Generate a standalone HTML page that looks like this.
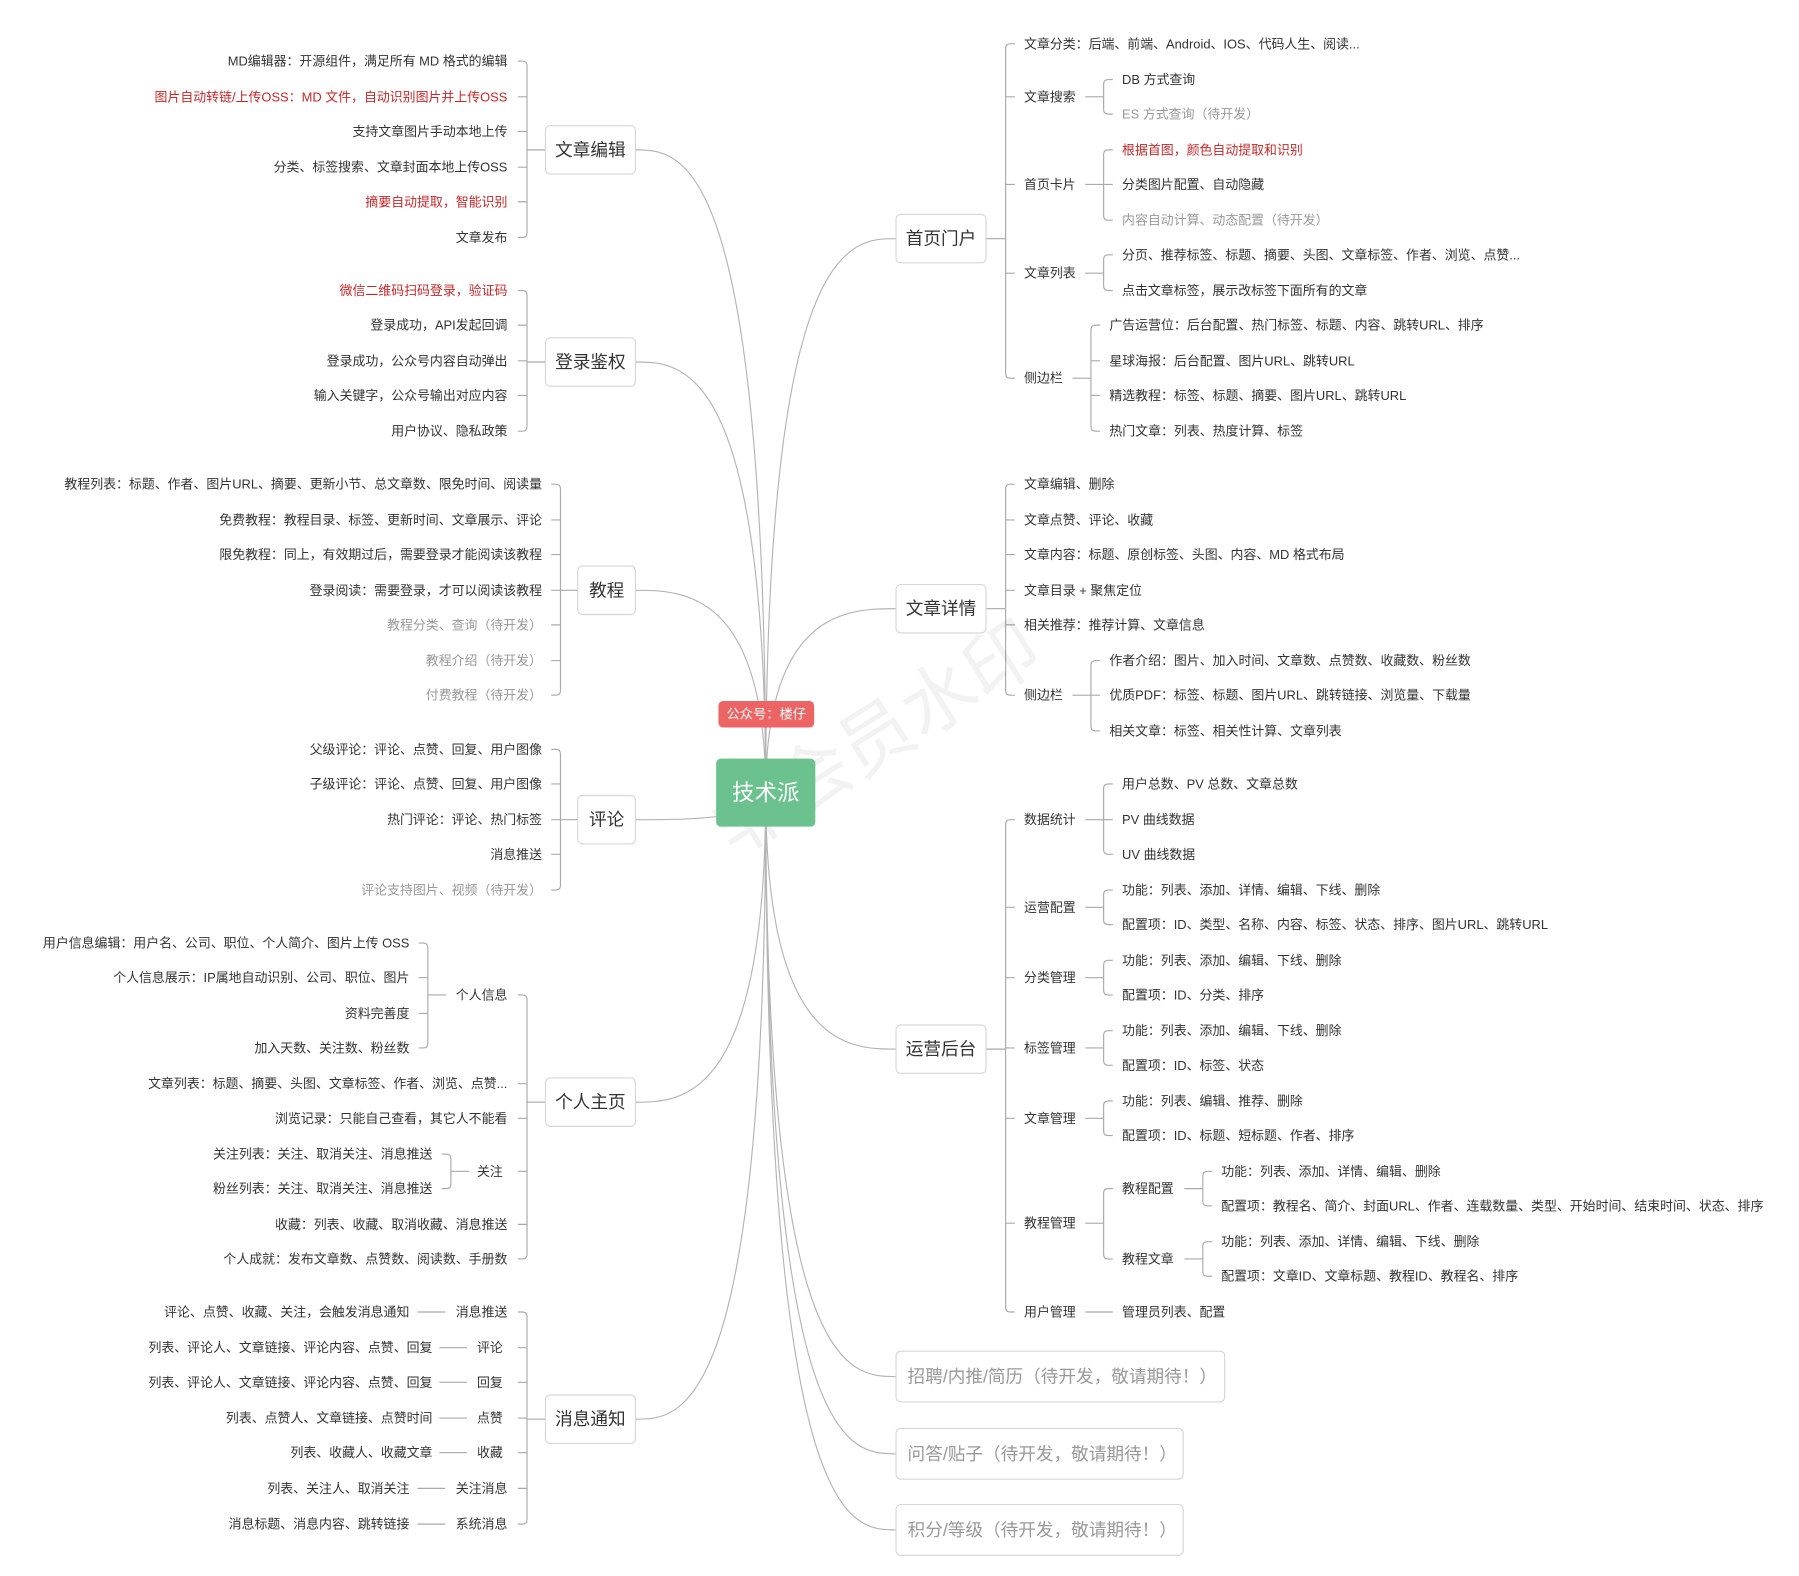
<!DOCTYPE html>
<html><head><meta charset="utf-8"><style>
html,body{margin:0;padding:0;background:#fff;}
svg{display:block;}
text{font-family:"Liberation Sans","Noto Sans CJK SC",sans-serif;font-size:11.2px;fill:#333;dominant-baseline:central;}
.e{text-anchor:end;}
.r{fill:#c0282a;}
.g{fill:#999;}
.m{font-size:15.3px;}
.mg{font-size:15.3px;fill:#999;}
.box{fill:#fff;stroke:#d6d6d6;stroke-width:1;}
.ln{fill:none;stroke:#aaa;stroke-width:1;}
.cv{fill:none;stroke:#b4b4b4;stroke-width:1;}
</style></head><body>
<svg id="s" width="1799" height="1576" viewBox="0 0 1560 1367" preserveAspectRatio="none" xmlns="http://www.w3.org/2000/svg">
<g id="curves"></g>
<g id="lines"></g>
<text x="760" y="640" transform="rotate(-32 760 640)" style="font-size:64px;fill:rgba(0,0,0,0.05);text-anchor:middle">非会员水印</text>

<rect class="box" x="473" y="109" width="78" height="42" rx="4"/><text class="m" x="512" y="130" text-anchor="middle">文章编辑</text>
<rect class="box" x="473" y="293" width="78" height="42" rx="4"/><text class="m" x="512" y="314" text-anchor="middle">登录鉴权</text>
<rect class="box" x="501" y="491" width="50" height="42" rx="4"/><text class="m" x="526" y="512" text-anchor="middle">教程</text>
<rect class="box" x="501" y="690" width="50" height="42" rx="4"/><text class="m" x="526" y="711" text-anchor="middle">评论</text>
<rect class="box" x="473" y="935" width="78" height="42" rx="4"/><text class="m" x="512" y="956" text-anchor="middle">个人主页</text>
<rect class="box" x="473" y="1210" width="78" height="42" rx="4"/><text class="m" x="512" y="1231" text-anchor="middle">消息通知</text>

<rect class="box" x="777" y="186" width="78" height="42" rx="4"/><text class="m" x="816" y="207" text-anchor="middle">首页门户</text>
<rect class="box" x="777" y="507" width="78" height="42" rx="4"/><text class="m" x="816" y="528" text-anchor="middle">文章详情</text>
<rect class="box" x="777" y="889" width="78" height="42" rx="4"/><text class="m" x="816" y="910" text-anchor="middle">运营后台</text>
<rect class="box" x="777" y="1172" width="285" height="44" rx="4"/><text class="mg" x="787" y="1194">招聘/内推/简历（待开发，敬请期待！）</text>
<rect class="box" x="777" y="1239" width="249" height="44" rx="4"/><text class="mg" x="787" y="1261">问答/贴子（待开发，敬请期待！）</text>
<rect class="box" x="777" y="1305" width="249" height="44" rx="4"/><text class="mg" x="787" y="1327">积分/等级（待开发，敬请期待！）</text>

<rect x="623" y="608" width="83" height="23" rx="4" fill="#ec6464"/><text x="664.5" y="619.5" text-anchor="middle" style="fill:#fff;font-size:11.5px">公众号：楼仔</text>
<rect x="621" y="658" width="86" height="59" rx="4" fill="#6cc28f"/><text x="664" y="688" text-anchor="middle" style="fill:#fff;font-size:19.5px">技术派</text>

<text class="e" x="440" y="53">MD编辑器：开源组件，满足所有 MD 格式的编辑</text>
<text class="e r" x="440" y="84">图片自动转链/上传OSS：MD 文件，自动识别图片并上传OSS</text>
<text class="e" x="440" y="114">支持文章图片手动本地上传</text>
<text class="e" x="440" y="145">分类、标签搜索、文章封面本地上传OSS</text>
<text class="e r" x="440" y="175">摘要自动提取，智能识别</text>
<text class="e" x="440" y="206">文章发布</text>
<text class="e r" x="440" y="252">微信二维码扫码登录，验证码</text>
<text class="e" x="440" y="282">登录成功，API发起回调</text>
<text class="e" x="440" y="313">登录成功，公众号内容自动弹出</text>
<text class="e" x="440" y="343">输入关键字，公众号输出对应内容</text>
<text class="e" x="440" y="374">用户协议、隐私政策</text>
<text class="e" x="470" y="420">教程列表：标题、作者、图片URL、摘要、更新小节、总文章数、限免时间、阅读量</text>
<text class="e" x="470" y="451">免费教程：教程目录、标签、更新时间、文章展示、评论</text>
<text class="e" x="470" y="481">限免教程：同上，有效期过后，需要登录才能阅读该教程</text>
<text class="e" x="470" y="512">登录阅读：需要登录，才可以阅读该教程</text>
<text class="e g" x="470" y="542">教程分类、查询（待开发）</text>
<text class="e g" x="470" y="573">教程介绍（待开发）</text>
<text class="e g" x="470" y="603">付费教程（待开发）</text>
<text class="e" x="470" y="650">父级评论：评论、点赞、回复、用户图像</text>
<text class="e" x="470" y="680">子级评论：评论、点赞、回复、用户图像</text>
<text class="e" x="470" y="711">热门评论：评论、热门标签</text>
<text class="e" x="470" y="741">消息推送</text>
<text class="e g" x="470" y="772">评论支持图片、视频（待开发）</text>
<text class="e" x="355" y="818">用户信息编辑：用户名、公司、职位、个人简介、图片上传 OSS</text>
<text class="e" x="355" y="848">个人信息展示：IP属地自动识别、公司、职位、图片</text>
<text class="e" x="355" y="879">资料完善度</text>
<text class="e" x="355" y="909">加入天数、关注数、粉丝数</text>
<text class="e" x="440" y="863">个人信息</text>
<text class="e" x="440" y="940">文章列表：标题、摘要、头图、文章标签、作者、浏览、点赞...</text>
<text class="e" x="440" y="970">浏览记录：只能自己查看，其它人不能看</text>
<text class="e" x="375" y="1001">关注列表：关注、取消关注、消息推送</text>
<text class="e" x="375" y="1031">粉丝列表：关注、取消关注、消息推送</text>
<text class="e" x="436" y="1016">关注</text>
<text class="e" x="440" y="1062">收藏：列表、收藏、取消收藏、消息推送</text>
<text class="e" x="440" y="1092">个人成就：发布文章数、点赞数、阅读数、手册数</text>
<text class="e" x="355" y="1138">评论、点赞、收藏、关注，会触发消息通知</text><text class="e" x="440" y="1138">消息推送</text>
<text class="e" x="375" y="1169">列表、评论人、文章链接、评论内容、点赞、回复</text><text class="e" x="436" y="1169">评论</text>
<text class="e" x="375" y="1199">列表、评论人、文章链接、评论内容、点赞、回复</text><text class="e" x="436" y="1199">回复</text>
<text class="e" x="375" y="1230">列表、点赞人、文章链接、点赞时间</text><text class="e" x="436" y="1230">点赞</text>
<text class="e" x="375" y="1260">列表、收藏人、收藏文章</text><text class="e" x="436" y="1260">收藏</text>
<text class="e" x="355" y="1291">列表、关注人、取消关注</text><text class="e" x="440" y="1291">关注消息</text>
<text class="e" x="355" y="1322">消息标题、消息内容、跳转链接</text><text class="e" x="440" y="1322">系统消息</text>

<text x="888" y="38">文章分类：后端、前端、Android、IOS、代码人生、阅读...</text>
<text x="888" y="84">文章搜索</text>
<text x="973" y="69">DB 方式查询</text>
<text class="g" x="973" y="99">ES 方式查询（待开发）</text>
<text x="888" y="160">首页卡片</text>
<text class="r" x="973" y="130">根据首图，颜色自动提取和识别</text>
<text x="973" y="160">分类图片配置、自动隐藏</text>
<text class="g" x="973" y="191">内容自动计算、动态配置（待开发）</text>
<text x="888" y="237">文章列表</text>
<text x="973" y="221">分页、推荐标签、标题、摘要、头图、文章标签、作者、浏览、点赞...</text>
<text x="973" y="252">点击文章标签，展示改标签下面所有的文章</text>
<text x="888" y="328">侧边栏</text>
<text x="962" y="282">广告运营位：后台配置、热门标签、标题、内容、跳转URL、排序</text>
<text x="962" y="313">星球海报：后台配置、图片URL、跳转URL</text>
<text x="962" y="343">精选教程：标签、标题、摘要、图片URL、跳转URL</text>
<text x="962" y="374">热门文章：列表、热度计算、标签</text>
<text x="888" y="420">文章编辑、删除</text>
<text x="888" y="451">文章点赞、评论、收藏</text>
<text x="888" y="481">文章内容：标题、原创标签、头图、内容、MD 格式布局</text>
<text x="888" y="512">文章目录 + 聚焦定位</text>
<text x="888" y="542">相关推荐：推荐计算、文章信息</text>
<text x="888" y="603">侧边栏</text>
<text x="962" y="573">作者介绍：图片、加入时间、文章数、点赞数、收藏数、粉丝数</text>
<text x="962" y="603">优质PDF：标签、标题、图片URL、跳转链接、浏览量、下载量</text>
<text x="962" y="634">相关文章：标签、相关性计算、文章列表</text>
<text x="888" y="711">数据统计</text>
<text x="973" y="680">用户总数、PV 总数、文章总数</text>
<text x="973" y="711">PV 曲线数据</text>
<text x="973" y="741">UV 曲线数据</text>
<text x="888" y="787">运营配置</text>
<text x="973" y="772">功能：列表、添加、详情、编辑、下线、删除</text>
<text x="973" y="802">配置项：ID、类型、名称、内容、标签、状态、排序、图片URL、跳转URL</text>
<text x="888" y="848">分类管理</text>
<text x="973" y="833">功能：列表、添加、编辑、下线、删除</text>
<text x="973" y="863">配置项：ID、分类、排序</text>
<text x="888" y="909">标签管理</text>
<text x="973" y="894">功能：列表、添加、编辑、下线、删除</text>
<text x="973" y="924">配置项：ID、标签、状态</text>
<text x="888" y="970">文章管理</text>
<text x="973" y="955">功能：列表、编辑、推荐、删除</text>
<text x="973" y="985">配置项：ID、标题、短标题、作者、排序</text>
<text x="888" y="1061">教程管理</text>
<text x="973" y="1031">教程配置</text>
<text x="1059" y="1016">功能：列表、添加、详情、编辑、删除</text>
<text x="1059" y="1046">配置项：教程名、简介、封面URL、作者、连载数量、类型、开始时间、结束时间、状态、排序</text>
<text x="973" y="1092">教程文章</text>
<text x="1059" y="1077">功能：列表、添加、详情、编辑、下线、删除</text>
<text x="1059" y="1107">配置项：文章ID、文章标题、教程ID、教程名、排序</text>
<text x="888" y="1138">用户管理</text>
<text x="973" y="1138">管理员列表、配置</text>
</svg>
<script>
(function(){
var d=[];
function R(x,py,ys,from){var a=Math.min.apply(0,ys),b=Math.max.apply(0,ys);
 d.push('M'+from+' '+py+'H'+x);
 if(ys.length>1){d.push('M'+(x+8)+' '+a+'H'+(x+4)+'Q'+x+' '+a+' '+x+' '+(a+4)+'V'+(b-4)+'Q'+x+' '+b+' '+(x+4)+' '+b+'H'+(x+8));
 ys.forEach(function(y){if(y!=a&&y!=b)d.push('M'+x+' '+y+'H'+(x+8));});}}
function L(x,py,ys,from){var a=Math.min.apply(0,ys),b=Math.max.apply(0,ys);
 d.push('M'+from+' '+py+'H'+x);
 d.push('M'+(x-8)+' '+a+'H'+(x-4)+'Q'+x+' '+a+' '+x+' '+(a+4)+'V'+(b-4)+'Q'+x+' '+b+' '+(x-4)+' '+b+'H'+(x-8));
 ys.forEach(function(y){if(y!=a&&y!=b)d.push('M'+x+' '+y+'H'+(x-8));});}
function H(x1,x2,y){d.push('M'+x1+' '+y+'H'+x2);}
L(457,130,[53,84,114,145,175,206],473);
L(457,314,[252,282,313,343,374],473);
L(486,512,[420,451,481,512,542,573,603],501);
L(486,711,[650,680,711,741,772],501);
L(457,956,[863,940,970,1016,1062,1092],473);
L(371,863,[818,848,879,909],387);
L(391,1016,[1001,1031],407);
L(457,1231,[1138,1169,1199,1230,1260,1291,1322],473);
H(362,386,1138);H(381,405,1169);H(381,405,1199);H(381,405,1230);H(381,405,1260);H(362,386,1291);H(362,386,1322);
R(872,207,[38,84,160,237,328],855);
R(957,84,[69,99],941);R(957,160,[130,160,191],941);R(957,237,[221,252],941);
R(946,328,[282,313,343,374],930);
R(872,528,[420,451,481,512,542,603],855);
R(946,603,[573,603,634],930);
R(872,910,[711,787,848,909,970,1061,1138],855);
R(957,711,[680,711,741],941);R(957,787,[772,802],941);R(957,848,[833,863],941);
R(957,909,[894,924],941);R(957,970,[955,985],941);R(957,1061,[1031,1092],941);
R(1043,1031,[1016,1046],1027);R(1043,1092,[1077,1107],1027);
H(941,965,1138);
var p=document.createElementNS('http://www.w3.org/2000/svg','path');
p.setAttribute('class','ln');p.setAttribute('d',d.join(''));
document.getElementById('lines').appendChild(p);
var c=[];var cx=664,cy=688;
[[551,130],[551,314],[551,512],[551,711],[551,956],[551,1231]].forEach(function(e){
 c.push('M'+cx+' '+cy+'C'+cx+' '+e[1]+' '+(e[0]+40)+' '+e[1]+' '+e[0]+' '+e[1]);});
[[777,207],[777,528],[777,910],[777,1194],[777,1261],[777,1327]].forEach(function(e){
 c.push('M'+cx+' '+cy+'C'+cx+' '+e[1]+' '+(e[0]-40)+' '+e[1]+' '+e[0]+' '+e[1]);});
var q=document.createElementNS('http://www.w3.org/2000/svg','path');
q.setAttribute('class','cv');q.setAttribute('d',c.join(''));
document.getElementById('curves').appendChild(q);
})();
</script>
</body></html>
